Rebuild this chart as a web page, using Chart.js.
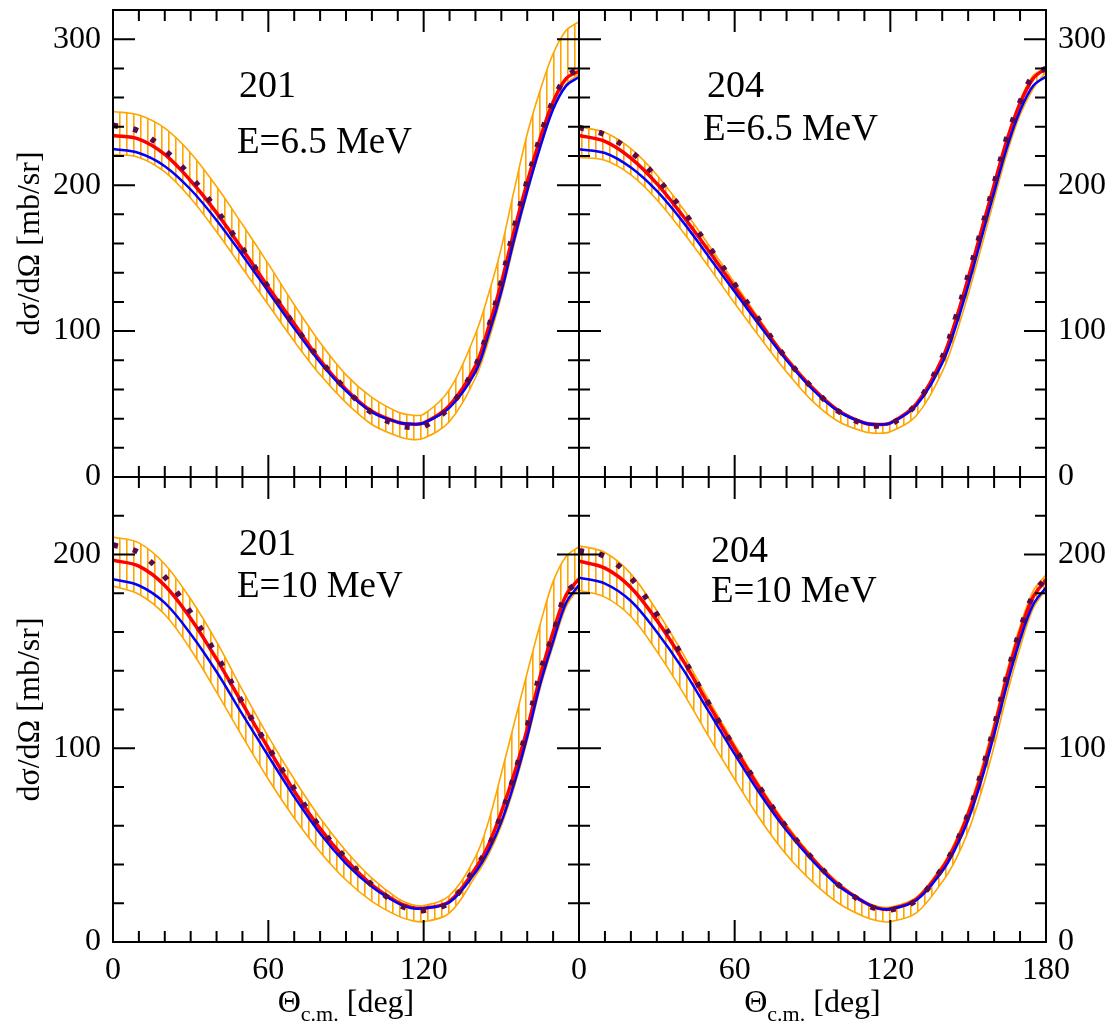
<!DOCTYPE html>
<html><head><meta charset="utf-8">
<script src="https://cdn.jsdelivr.net/npm/chart.js@4.4.1/dist/chart.umd.min.js"></script>
<style>
html,body{margin:0;padding:0;background:#fff;}
#wrap{position:relative;width:1112px;height:1025px;background:#fff;}
#wrap canvas{position:absolute;left:0;top:0;}
</style></head><body>
<div id="wrap">
<canvas id="cTL" width="1112" height="1025"></canvas>
<canvas id="cTR" width="1112" height="1025"></canvas>
<canvas id="cBL" width="1112" height="1025"></canvas>
<canvas id="cBR" width="1112" height="1025"></canvas>
</div>
<script>
// ---------- data ----------
const angles = [0,10,20,30,40,50,60,70,80,90,100,110,115,120,130,140,145,150,155,160,165,170,175,180];

// 201, E=6.5 MeV
const tlUpper = [250.5,248,239,222,199,173,146,118,92,70,54.5,44.5,42.5,43,60,98,125,157,197,235,265,290,306,312];
const tlLower = [221,219,209,191,168,143,118,93,70,51,36,28,25.8,26.5,38,68,93,124,160,194,225,252,269,276];
const tlRed   = [234,231.5,221,203,181,156,130,105,80,60,45,37.5,36.3,37,49,76,102,133,169,202,232,257,273,278];
const tlBlue  = [224.7,222,213,197,176,152,127,102,78.5,59,44.5,37.5,36.3,37,47.5,72,97,127,163,196,226,252,268,274];
const tlDots  = [241,237,224,206,183,156.5,130,104,80,60,44,35.5,34,34.5,48,76,102,134,171,203,233,258,274,280];

// 204, E=6.5 MeV
const trUpper = [240,236,225,207,184,159,133,107,82,62,46,37.5,36.5,37.5,51,82,108,138,170,202,233,258,275,280.5];
const trLower = [219,217,207,190,168,144,119,95,72,52,38,31,30,31,42,72,96,125,157,190,222,248,266,277.8];
const trRed   = [234,230,218.5,201,179,155,130,105,81,61,45.5,37,36,37,50,81,106,136,168,200,231,256,273,280];
const trBlue  = [224.6,222,212,196,175,151,127,103,80,60,45,37,36,37,49,78,102,131,163,195,226,251,268,274.4];
const trDots  = [239.5,234.5,223,205,182.5,158,132,106,81,61,45,36,35,36,50,82,108,138,169,201,233,257,275,280];

// 201, E=10 MeV
const blUpper = [209,206,195,177,155,130,106,84,64,47,33,22.5,19.5,18.8,24,44,62,87,113,139,164,186,199,204];
const blLower = [183.7,179.5,169,151,129,106,84,64,46.5,32,21,13.5,11.2,10.5,15,34,45,60,80,104,131,153,173,183];
const blRed   = [197,194,184,167,146,123,100,78,58.5,42.5,29.5,20.5,18,17.4,21,38,50,67,87,110,137,160,179,187.5];
const blBlue  = [187.2,184,175,159,139.5,117.5,96,75,56,40.5,28.5,20,17.5,17.4,20.5,36,47,62,82,106,133,155,175,184.3];
const blDots  = [205,201,188.5,170,148,123.5,100.5,79,59,43,29.5,19.5,17,16.3,20.5,38.5,49,66,86,111,139,159,180,186];

// 204, E=10 MeV
const brUpper = [204.5,201,190,171,149,125,102,80,60.5,44,30.5,21,18.5,18,23,39.5,52,68,89,113,140,163,181,189.5];
const brLower = [181.5,178,168,150,129,106,84,63,45,31,20,13,11,10.5,15,31,42,57,77,101,128,152,172,182];
const brRed   = [196.5,193,183,166,145.5,122.5,100,78.5,59,43,29.5,20.5,17.5,17,22,38,50,66,86,110,137,160,178,187];
const brBlue  = [188,185,176,160,141,119,97,76,57.5,42,29,20.5,17.5,17,21.5,36.5,48,63,83,107,133,156,174,183];
const brDots  = [202,199,188,169,147,123,100,79,59,43,29.5,20,17,16.5,21.5,38,50,66,87,111,138,161,179,188];

// ticks and labels
const xTicksLeft = [0,60,120];
const xTicksRight = [0,60,120,180];
const xTicksNone = [];
const yTicksTop = [0,100,200,300];
const yTicksBottom = [0,100,200];
const nucleusLabels = ['201','204','201','204'];
const energyLabels = ['E=6.5 MeV','E=6.5 MeV','E=10 MeV','E=10 MeV'];
const yTitle = 'dσ/dΩ [mb/sr]';

// ---------- drawing ----------
const FONT = "'Liberation Serif','Times New Roman',serif";
Chart.defaults.font.family = FONT;
Chart.defaults.color = '#000';

const W = 1112, H = 1025;

function hatchPattern(ctx){
  const c = document.createElement('canvas');
  c.width = 7; c.height = 8;
  const g = c.getContext('2d');
  g.fillStyle = '#ffa500';
  g.fillRect(0,0,1.6,8);
  return ctx.createPattern(c,'repeat');
}

const pts = arr => angles.map((a,i)=>({x:a,y:arr[i]}));

const frameTicks = {
  id:'frameTicks',
  afterDraw(chart, args, o){
    const {ctx, chartArea:a} = chart;
    const x = chart.scales.x, y = chart.scales.y;
    ctx.save();
    ctx.strokeStyle = '#000';
    ctx.lineWidth = 2;
    ctx.beginPath();
    for(let v=0; v<=180; v+=10){
      const p = x.getPixelForValue(v);
      const L = (v % 60 === 0) ? 22 : 11;
      ctx.moveTo(p, a.bottom); ctx.lineTo(p, a.bottom - L);
      ctx.moveTo(p, a.top); ctx.lineTo(p, a.top + L);
    }
    for(let v=0; v<=o.ymax; v+=20){
      const p = y.getPixelForValue(v);
      const L = (v % 100 === 0) ? 22 : 11;
      ctx.moveTo(a.left, p); ctx.lineTo(a.left + L, p);
      ctx.moveTo(a.right, p); ctx.lineTo(a.right - L, p);
    }
    ctx.stroke();
    ctx.strokeRect(a.left, a.top, a.right-a.left, a.bottom-a.top);
    ctx.restore();
  }
};

const texts = {
  id:'texts',
  afterDraw(chart, args, o){
    const ctx = chart.ctx;
    ctx.save();
    ctx.fillStyle = '#000';
    ctx.textBaseline = 'alphabetic';
    ctx.textAlign = 'left';
    ctx.font = "38px " + FONT;
    ctx.fillText(o.nucleus, o.nx, o.ny);
    ctx.font = "37px " + FONT;
    ctx.fillText(o.energy, o.ex, o.ey);
    if(o.xtitle){
      const a = chart.chartArea;
      const cx = (a.left + a.right)/2;
      const big = "32px " + FONT, small = "22px " + FONT;
      ctx.font = big; const w1 = ctx.measureText('Θ').width;
      ctx.font = small; const w2 = ctx.measureText('c.m.').width;
      ctx.font = big; const w3 = ctx.measureText(' [deg]').width;
      let sx = cx - (w1+w2+w3)/2;
      const base = 1012;
      ctx.font = big; ctx.fillText('Θ', sx, base); sx += w1;
      ctx.font = small; ctx.fillText('c.m.', sx, base+9); sx += w2;
      ctx.font = big; ctx.fillText(' [deg]', sx, base);
    }
    ctx.restore();
  }
};

function panel(id, p){
  const canvas = document.getElementById(id);
  const ctx = canvas.getContext('2d');
  const pat = hatchPattern(ctx);
  const yLeft = p.side === 'left';
  const xH = p.xticks.length ? (H - p.area.bottom) : 0;
  const yW = yLeft ? p.area.left : (W - p.area.right);
  const padding = {
    left: yLeft ? 0 : p.area.left,
    right: yLeft ? (W - p.area.right) : 0,
    top: p.area.top,
    bottom: H - p.area.bottom - xH
  };
  const tickFont = {family: FONT, size: 32};
  const common = {pointRadius:0, fill:false, tension:0.35};
  new Chart(ctx, {
    type:'line',
    data:{datasets:[
      Object.assign({}, common, {data:pts(p.upper), borderColor:'#ffa500', borderWidth:1.6, fill:'+1', backgroundColor:pat, order:5}),
      Object.assign({}, common, {data:pts(p.lower), borderColor:'#ffa500', borderWidth:1.6, order:4}),
      Object.assign({}, common, {data:pts(p.red), borderColor:'#ff0000', borderWidth:3.5, order:3}),
      Object.assign({}, common, {data:pts(p.blue), borderColor:'#0000ff', borderWidth:2.5, order:2}),
      Object.assign({}, common, {data:pts(p.dots), borderColor:'#5a0a4a', borderWidth:5.5, borderDash:[5,15.5], order:1})
    ]},
    options:{
      responsive:false, animation:false, devicePixelRatio:1, events:[],
      layout:{padding, autoPadding:false},
      plugins:{legend:{display:false}, tooltip:{enabled:false},
        frameTicks:{ymax:p.ymax},
        texts:p.texts},
      scales:{
        x:{type:'linear', min:0, max:180, position:'bottom',
          afterBuildTicks:s=>{ s.ticks = p.xticks.map(v=>({value:v})); },
          afterFit:s=>{ s.height = xH; s.paddingLeft=0; s.paddingRight=0; },
          ticks:{display:p.xticks.length>0, font:tickFont, color:'#000', padding:9, maxRotation:0, minRotation:0, autoSkip:false},
          grid:{display:false, drawTicks:false}, border:{display:false}},
        y:{type:'linear', min:0, max:p.ymax, position:p.side,
          afterBuildTicks:s=>{ s.ticks = p.yticks.map(v=>({value:v})); },
          afterFit:s=>{ s.width = yW; s.paddingTop=0; s.paddingBottom=0; },
          ticks:{font:tickFont, color:'#000', padding:12, autoSkip:false},
          grid:{display:false, drawTicks:false}, border:{display:false},
          title:{display:yLeft, text:yTitle, color:'#000', font:{family:FONT, size:32}, padding:{top:11,bottom:0}}}
      }
    },
    plugins:[frameTicks, texts]
  });
}

panel('cTL', {area:{left:113,top:10,right:579,bottom:477}, side:'left', ymax:320, yticks:yTicksTop, xticks:xTicksNone,
  upper:tlUpper, lower:tlLower, red:tlRed, blue:tlBlue, dots:tlDots,
  texts:{nucleus:nucleusLabels[0], nx:239, ny:97, energy:energyLabels[0], ex:237, ey:153, xtitle:false}});
panel('cTR', {area:{left:579,top:10,right:1046,bottom:477}, side:'right', ymax:320, yticks:yTicksTop, xticks:xTicksNone,
  upper:trUpper, lower:trLower, red:trRed, blue:trBlue, dots:trDots,
  texts:{nucleus:nucleusLabels[1], nx:707, ny:97, energy:energyLabels[1], ex:703, ey:140, xtitle:false}});
panel('cBL', {area:{left:113,top:477,right:579,bottom:942}, side:'left', ymax:240, yticks:yTicksBottom, xticks:xTicksLeft,
  upper:blUpper, lower:blLower, red:blRed, blue:blBlue, dots:blDots,
  texts:{nucleus:nucleusLabels[2], nx:239, ny:555, energy:energyLabels[2], ex:237, ey:597, xtitle:true}});
panel('cBR', {area:{left:579,top:477,right:1046,bottom:942}, side:'right', ymax:240, yticks:yTicksBottom, xticks:xTicksRight,
  upper:brUpper, lower:brLower, red:brRed, blue:brBlue, dots:brDots,
  texts:{nucleus:nucleusLabels[3], nx:711, ny:562, energy:energyLabels[3], ex:711, ey:602, xtitle:true}});
</script>
</body></html>
